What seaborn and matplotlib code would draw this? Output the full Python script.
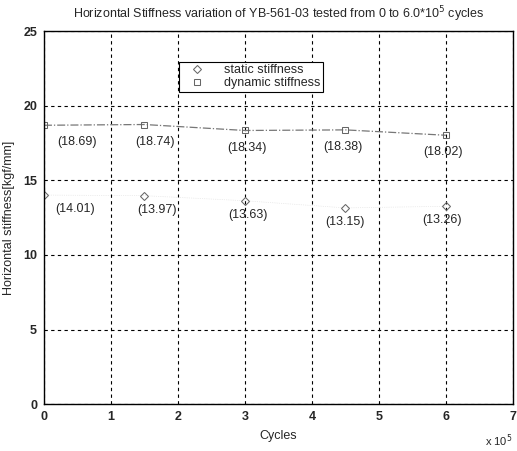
import numpy as np
import pandas as pd
import matplotlib
matplotlib.use("Agg")
import matplotlib.pyplot as plt
import seaborn as sns

cycles = [0, 1.5, 3, 4.5, 6]
dynamic = [18.69, 18.74, 18.34, 18.38, 18.02]
static = [14.01, 13.97, 13.63, 13.15, 13.26]
dyn_label_x = [0.49, 1.66, 3.03, 4.46, 5.96]
sta_label_x = [0.46, 1.69, 3.04, 4.49, 5.94]

sns.set_style("white")
plt.rcParams['font.family'] = ['Liberation Sans', 'DejaVu Sans']

df = pd.DataFrame({
    "cycles": cycles * 2,
    "stiffness": static + dynamic,
    "kind": ["static stiffness"] * 5 + ["dynamic stiffness"] * 5,
})

fig = plt.figure(figsize=(5.17, 4.51), dpi=100)
ax = fig.add_axes([0.085, 0.104, 0.907, 0.827])

sns.lineplot(data=df[df.kind == "static stiffness"], x="cycles", y="stiffness",
             ax=ax, color="#dddddd", lw=0.5, linestyle=":", marker="D",
             markersize=4.5, markerfacecolor="none", markeredgecolor="#666666",
             label="static stiffness")
sns.lineplot(data=df[df.kind == "dynamic stiffness"], x="cycles", y="stiffness",
             ax=ax, color="#777777", lw=0.9, linestyle="-.", marker="s",
             markersize=4.5, markerfacecolor="none", markeredgecolor="#666666",
             label="dynamic stiffness")

for lx, v in zip(dyn_label_x, dynamic):
    ax.text(lx, v - 1.15, "(%.2f)" % v, ha="center", va="center", fontsize=9)
for lx, v in zip(sta_label_x, static):
    ax.text(lx, v - 0.95, "(%.2f)" % v, ha="center", va="center", fontsize=9)

ax.set_xlim(0, 7)
ax.set_ylim(0, 25)
ax.set_xticks(range(8))
ax.set_yticks([0, 5, 10, 15, 20, 25])
ax.grid(True, color="black", linestyle=(0, (3, 3)), lw=0.8)
ax.tick_params(direction="in", length=4, labelsize=9, width=0.8, pad=5)
for s in ax.spines.values():
    s.set_color("black")
    s.set_linewidth(1)
for lab in ax.get_xticklabels() + ax.get_yticklabels():
    lab.set_fontweight("bold")

ax.set_xlabel("Cycles", fontsize=9, labelpad=5)
ax.set_ylabel("Horizontal stiffness[kgf/mm]", fontsize=9, labelpad=6)
ax.set_title("Horizontal Stiffness variation of YB-561-03 tested from 0 to 6.0*10$^5$ cycles",
             fontsize=9, pad=9)
ax.text(1.0, -0.075, r"x 10$^5$", transform=ax.transAxes, ha="right", va="top", fontsize=8)

leg = ax.legend(loc="upper left", bbox_to_anchor=(0.282, 0.925), fontsize=9,
                frameon=True, fancybox=False, edgecolor="black", framealpha=1,
                borderpad=0.2, handlelength=2.6, labelspacing=0.1, borderaxespad=0.2)
leg.get_frame().set_linewidth(0.8)
for h in leg.get_lines():
    h.set_linestyle("none")

fig.savefig("out.png", dpi=100)
